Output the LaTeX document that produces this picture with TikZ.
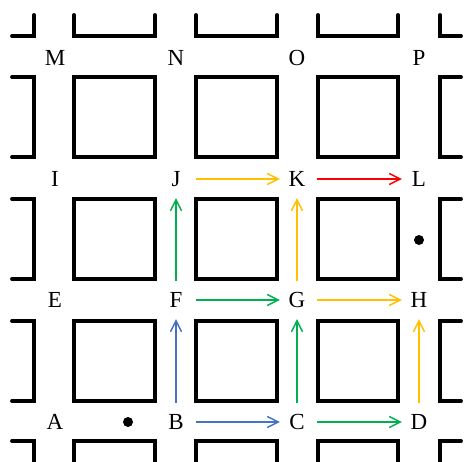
\documentclass[tikz,border=0pt]{standalone}
\usepackage{fontspec}
\setmainfont{Liberation Serif}
\usetikzlibrary{arrows.meta}
\definecolor{cblue}{HTML}{4472C4}
\definecolor{cgreen}{HTML}{00B050}
\definecolor{cyellow}{HTML}{FFC000}
\definecolor{cred}{HTML}{FF0000}
\tikzset{
  block/.style={line width=3.8pt, line cap=round, line join=miter},
  lbl/.style={font=\fontsize{23}{26}\selectfont, minimum width=34pt, minimum height=38pt, inner sep=0pt},
  route/.style={line width=1.4pt, -{Straight Barb[length=11pt,width=11pt,line width=1.4pt]}},
  hroute/.style={route, shorten <=3pt},
  spot/.style={fill=black, circle, inner sep=0pt, minimum size=10pt}
}
\begin{document}
\begin{tikzpicture}[x=1pt, y=-1pt]
\useasboundingbox (0,0) rectangle (465,462);
% full blocks
\foreach \l/\r in {74/155,196/277,318/398}{
  \foreach \t/\b in {77/157,199/279,321/401}{
    \draw[block] (\l,\t) rectangle (\r,\b);
  }
  \draw[block] (\l,15) -- (\l,36) -- (\r,36) -- (\r,15);
  \draw[block] (\l,466) -- (\l,441) -- (\r,441) -- (\r,466);
}
\foreach \t/\b in {77/157,199/279,321/401}{
  \draw[block] (12,\t) -- (34,\t) -- (34,\b) -- (12,\b);
  \draw[block] (461,\t) -- (440,\t) -- (440,\b) -- (461,\b);
}
\draw[block] (12,36) -- (34,36) -- (34,15);
\draw[block] (440,15) -- (440,36) -- (461,36);
\draw[block] (12,441) -- (34,441) -- (34,466);
\draw[block] (461,441) -- (440,441) -- (440,466);
% labels
\node[lbl] (A) at (55,422) {A};
\node[lbl] (B) at (176,422) {B};
\node[lbl] (C) at (297,422) {C};
\node[lbl] (D) at (419,422) {D};
\node[lbl] (E) at (55,300) {E};
\node[lbl] (F) at (176,300) {F};
\node[lbl] (G) at (297,300) {G};
\node[lbl] (H) at (419,300) {H};
\node[lbl] (I) at (55,179) {I};
\node[lbl] (J) at (176,179) {J};
\node[lbl] (K) at (297,179) {K};
\node[lbl] (L) at (419,179) {L};
\node[lbl] (M) at (55,58) {M};
\node[lbl] (N) at (176,58) {N};
\node[lbl] (O) at (297,58) {O};
\node[lbl] (P) at (419,58) {P};
% dots
\node[spot] (d1) at (128,422) {};
\node[spot] (d2) at (419,240) {};
% routes
\draw[hroute, cblue] (B) -- (C);
\draw[route, cblue] (B) -- (F);
\draw[hroute, cgreen] (F) -- (G);
\draw[route, cgreen] (F) -- (J);
\draw[route, cgreen] (C) -- (G);
\draw[hroute, cgreen] (C) -- (D);
\draw[hroute, cyellow] (J) -- (K);
\draw[route, cyellow] (G) -- (K);
\draw[hroute, cyellow] (G) -- (H);
\draw[route, cyellow] (D) -- (H);
\draw[hroute, cred] (K) -- (L);
\end{tikzpicture}
\end{document}
